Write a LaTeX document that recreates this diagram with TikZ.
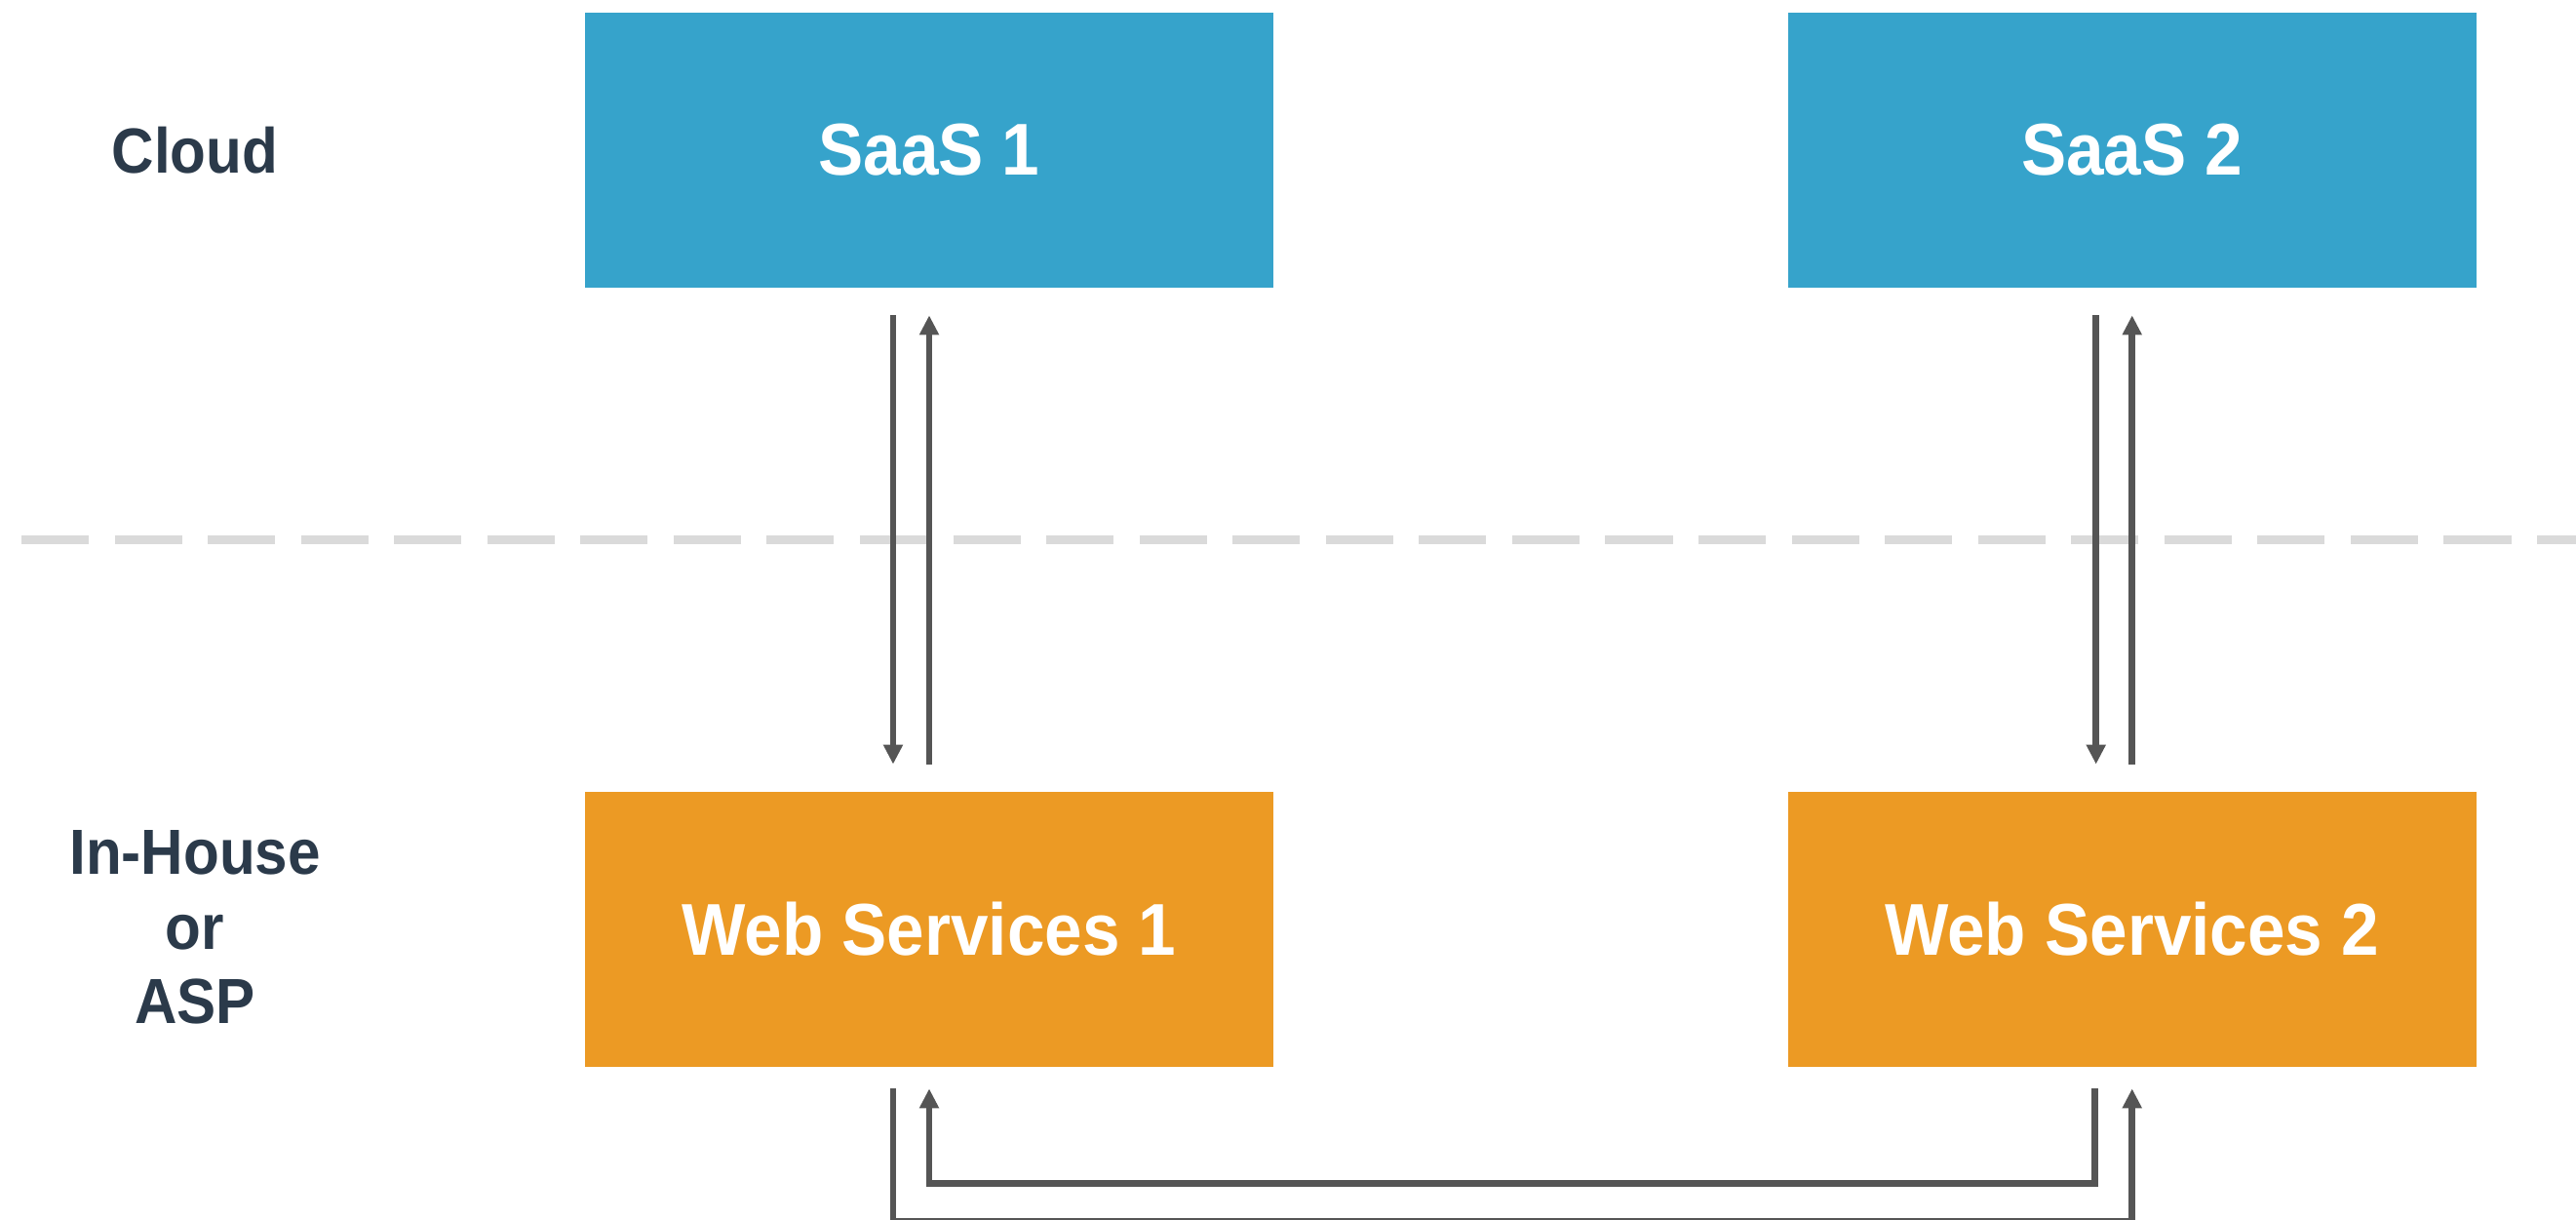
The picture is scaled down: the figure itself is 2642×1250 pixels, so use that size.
\documentclass[tikz,border=0pt]{standalone}
\usepackage{fontspec}
\setmainfont{Liberation Sans}[FakeStretch=0.92]
\usetikzlibrary{arrows.meta}
\definecolor{saasblue}{HTML}{36A3CB}
\definecolor{weborange}{HTML}{EC9A24}
\definecolor{zonetext}{HTML}{2B3A4A}
\definecolor{linkgrey}{HTML}{555555}
\definecolor{zonegrey}{HTML}{DADADA}
\def\colsep{12.33cm}
\def\rowsep{7.985cm}

\begin{document}
\begin{tikzpicture}[x=0.01cm,y=-0.01cm,-{Triangle[length=0.2cm,width=0.19cm]},draw=linkgrey,line width=0.065cm, node distance=\colsep]
    \tikzstyle{service}=[rectangle,minimum width=7.06cm,minimum height=2.82cm,inner sep=0pt,text=white,font=\bfseries\fontsize{21.4}{24}\selectfont]
    \tikzstyle{saas}=[service, fill=saasblue];
    \tikzstyle{web}=[service, fill=weborange];
    \tikzstyle{zone}=[text=zonetext, align=center, font=\bfseries\fontsize{18.6}{21.8}\selectfont]
    \tikzstyle{link}=[shorten >=0.25cm, shorten <=0.25cm]
    \tikzstyle{bus}=[shorten >=0.19cm, shorten <=0.19cm]

    \useasboundingbox (0,0) rectangle (2642,1250);

    % Draw the cloud services
    \node[saas] (saas1) at (953,154) {SaaS 1};
    \node[saas, right of=saas1] (saas2) {SaaS 2};

    % Draw the in-house services
    \node[web, below of=saas1, node distance=\rowsep] (ws1) {Web Services 1};
    \node[web, right of=ws1] (ws2) {Web Services 2};

    % Annotate the zones
    \node[zone] (cloud) at (200,154) {Cloud};
    \node[zone] (inhouse) at (200,951) {In-House\\or\\ASP};

    % Zone border
    \coordinate (borderL) at (22,553);
    \coordinate (borderR) at (2642,553);
    \draw[-, zonegrey, line width=0.09cm, dash pattern=on 0.69cm off 0.265cm] (borderL) -- (borderR);

    % Connect every cloud service with its web service
    \foreach \col in {1,2} {
        \draw[link] ([xshift=-0.37cm]saas\col.south) -- ([xshift=-0.37cm]ws\col.north);
        \draw[link] (ws\col.north) -- (saas\col.south);
    }

    % Connect the web services with each other
    \draw[bus] ([xshift=-0.38cm]ws2.south) -- ++(0,116) -| (ws1.south);
    \draw[bus] ([xshift=-0.37cm]ws1.south) -- ++(0,155) -| (ws2.south);
\end{tikzpicture}
\end{document}
